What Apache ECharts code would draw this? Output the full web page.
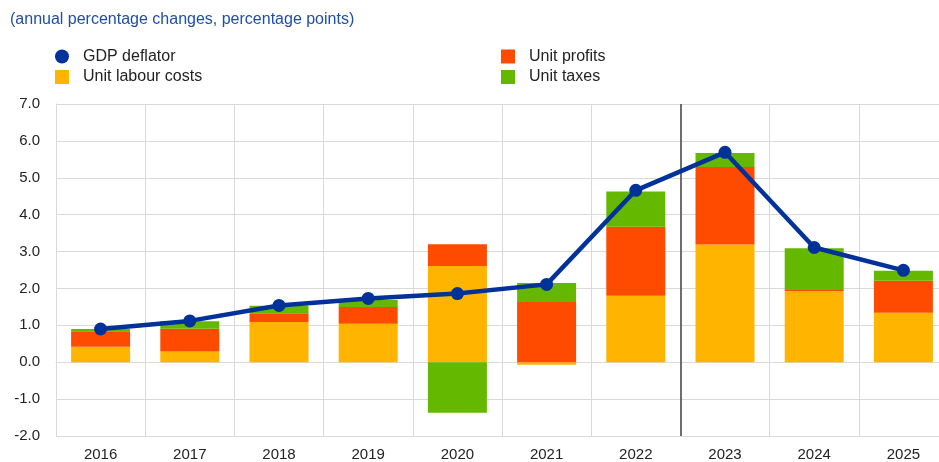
<!DOCTYPE html>
<html><head><meta charset="utf-8">
<script src="https://cdn.jsdelivr.net/npm/echarts@6/dist/echarts.min.js"></script>
<style>html,body{margin:0;padding:0;background:#fff;overflow:hidden;width:939px;height:462px}#c{width:948px;height:462px}</style>
</head><body><div id="c"></div>
<script>
const years = ['2016','2017','2018','2019','2020','2021','2022','2023','2024','2025'];
const unitLabourCosts = [0.42, 0.29, 1.09, 1.04, 2.61, -0.07, 1.80, 3.19, 1.93, 1.34];
const unitProfits = [0.42, 0.62, 0.24, 0.46, 0.59, 1.63, 1.87, 2.10, 0.03, 0.87];
const unitTaxes = [0.06, 0.20, 0.20, 0.19, -1.37, 0.52, 0.96, 0.38, 1.13, 0.27];
const gdpDeflator = [0.90, 1.12, 1.54, 1.73, 1.86, 2.11, 4.66, 5.69, 3.11, 2.49];
const projectionStart = 7;

const chart = echarts.init(document.getElementById('c'), null, {renderer:'canvas'});
const font = 'Arial, "Liberation Sans", sans-serif';
const barCommon = {type:'bar', stack:'s', barWidth:59, xAxisIndex:0, yAxisIndex:0};
const legendText = {fontFamily:font, fontSize:16, color:'#222', padding:[0,0,0,9]};
chart.setOption({
  animation:false,
  title:{text:'(annual percentage changes, percentage points)', left:5, top:7,
    textStyle:{fontFamily:font, fontSize:16, fontWeight:'normal', color:'#1f4ea8'}},
  legend:[
    {data:[{name:'GDP deflator', icon:'circle'},{name:'Unit labour costs', icon:'rect'}],
     orient:'vertical', left:50, top:43.5, itemWidth:14, itemHeight:14, itemGap:4.5,
     textStyle:legendText},
    {data:[{name:'Unit profits', icon:'rect'},{name:'Unit taxes', icon:'rect'}],
     orient:'vertical', left:496, top:43.5, itemWidth:14, itemHeight:14, itemGap:4.5,
     textStyle:legendText}
  ],
  grid:{left:56, right:0, top:104, bottom:26, containLabel:false},
  xAxis:[
    {type:'category', data:years, boundaryGap:true,
     axisLine:{show:true, lineStyle:{color:'#d9d9d9'}}, axisTick:{show:false},
     axisLabel:{fontFamily:font, fontSize:15, color:'#222', margin:11},
     splitLine:{show:true, lineStyle:{color:'#d9d9d9', width:1}}},
    {type:'value', min:0, max:10, show:false}
  ],
  yAxis:{type:'value', min:-2, max:7, interval:1,
    axisLine:{show:true, lineStyle:{color:'#d9d9d9'}}, axisTick:{show:false},
    axisLabel:{fontFamily:font, fontSize:15, color:'#222', margin:16, formatter:v=>v.toFixed(1)},
    splitLine:{lineStyle:{color:'#d9d9d9', width:1}}},
  series:[
    Object.assign({name:'Unit labour costs', data:unitLabourCosts, itemStyle:{color:'#FFB400'}}, barCommon),
    Object.assign({name:'Unit profits', data:unitProfits, itemStyle:{color:'#FF4B00'}}, barCommon),
    Object.assign({name:'Unit taxes', data:unitTaxes, itemStyle:{color:'#65B800'}}, barCommon),
    {name:'GDP deflator', type:'line', data:gdpDeflator, symbol:'circle', symbolSize:13,
     lineStyle:{color:'#003299', width:4.5}, itemStyle:{color:'#003299'}, z:5},
    {type:'line', xAxisIndex:1, yAxisIndex:0, data:[], silent:true,
     markLine:{silent:true, symbol:'none', label:{show:false},
       lineStyle:{color:'#6e6e6e', width:2, type:'solid'},
       data:[{xAxis:projectionStart}]}}
  ]
});
</script></body></html>
